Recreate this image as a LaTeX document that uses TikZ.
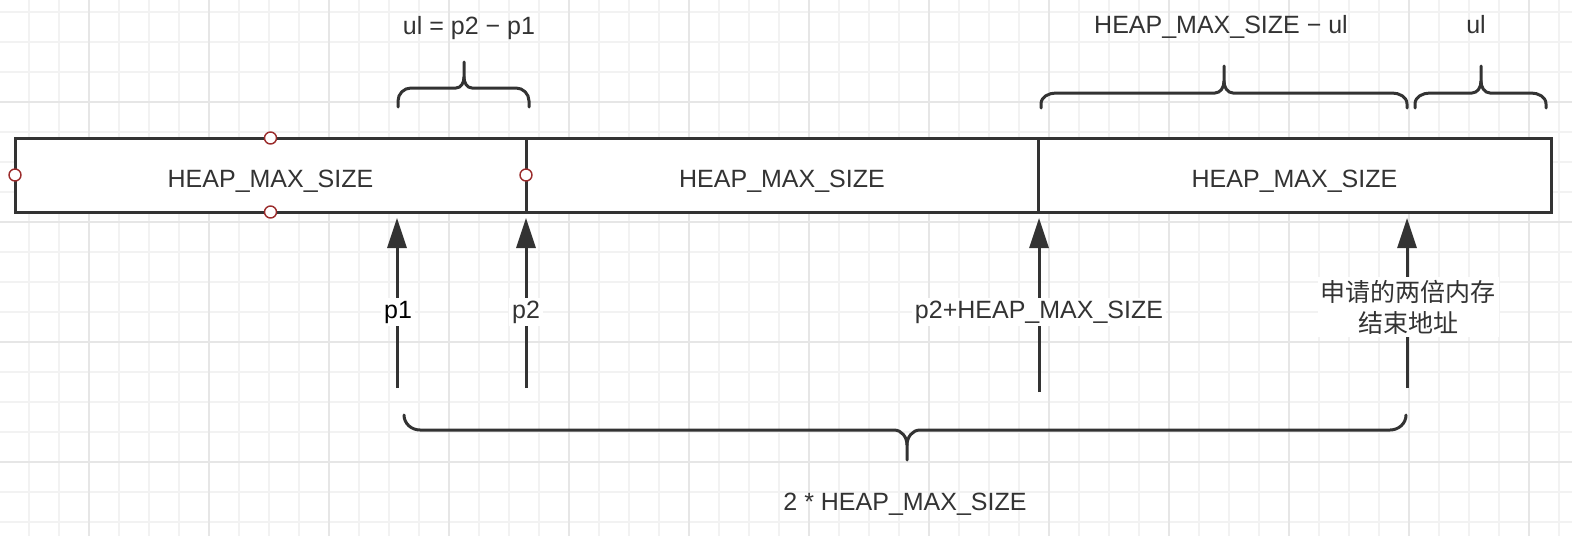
\documentclass[tikz,border=0pt]{standalone}
\usepackage{fontspec}
\setmainfont{Liberation Sans}
\newfontfamily\cjkfont{Noto Sans CJK SC}
\usetikzlibrary{arrows.meta}
\definecolor{ink}{HTML}{333333}
\definecolor{gridminor}{HTML}{F2F2F2}
\definecolor{gridmajor}{HTML}{E6E6E6}
\definecolor{handle}{HTML}{9B2C2C}
\tikzset{
  segbox/.style={draw=ink, line width=3pt, fill=white, rectangle, minimum width=#1, minimum height=74pt,
    inner sep=0pt, outer sep=0pt, text height=24pt, text depth=0pt, text=ink,
    font=\fontsize{25}{30}\selectfont},
  handlept/.style={circle, draw=handle, line width=1.4pt, fill=white, minimum size=12pt, inner sep=0pt},
  bracket/.style={draw=ink, line width=3pt, line cap=round, line join=round},
  pointer/.style={draw=ink, line width=3pt, -{Triangle[width=19pt,length=30pt]}},
  lbl/.style={text=ink, font=\fontsize{25}{30}\selectfont, inner sep=2pt},
  lblbg/.style={lbl, fill=white, inner sep=3pt},
}
\begin{document}
\begin{tikzpicture}[x=1pt,y=-1pt]
\useasboundingbox (0,0) rectangle (1572,536);
\fill[white] (0,0) rectangle (1572,536);
% grid
\foreach \gx in {29,59,...,1559} {\draw[gridminor, line width=1.2pt] (\gx,0) -- (\gx,536);}
\foreach \gy in {12,42,...,522} {\draw[gridminor, line width=1.2pt] (0,\gy) -- (1572,\gy);}
\foreach \gx in {89,209,...,1529} {\draw[gridmajor, line width=1.2pt] (\gx,0) -- (\gx,536);}
\foreach \gy in {102,222,342,462} {\draw[gridmajor, line width=1.2pt] (0,\gy) -- (1572,\gy);}

% segments
\node[segbox=511pt] (seg1) at (270.5,175) {HEAP\_MAX\_SIZE};
\node[segbox=512pt] (seg2) at (782,175) {HEAP\_MAX\_SIZE};
\node[segbox=513pt] (seg3) at (1294.5,175) {HEAP\_MAX\_SIZE};

% selection handles
\node[handlept] (h1) at (seg1.west) {};
\node[handlept] (h2) at (seg1.north) {};
\node[handlept] (h3) at (seg1.south) {};
\node[handlept] (h4) at (seg1.east) {};

% top braces
\draw[bracket] (398,107) -- (398,101) to[out=90,in=180] (411,88) -- (456,88) to[out=0,in=-90] (464,77) -- (464,62);
\draw[bracket] (464,77) to[out=-90,in=180] (472,88) -- (516,88) to[out=0,in=90] (529,101) -- (529,107);
\draw[bracket] (1041,108) -- (1041,104) to[out=90,in=180] (1056,93) -- (1215,93) to[out=0,in=-90] (1224,81) -- (1224,66);
\draw[bracket] (1224,81) to[out=-90,in=180] (1233,93) -- (1392,93) to[out=0,in=90] (1407,104) -- (1407,108);
\draw[bracket] (1415,108) -- (1415,104) to[out=90,in=180] (1430,93) -- (1472,93) to[out=0,in=-90] (1481,81) -- (1481,66);
\draw[bracket] (1481,81) to[out=-90,in=180] (1490,93) -- (1531,93) to[out=0,in=90] (1546,104) -- (1546,108);

\node[lbl, anchor=base] (t1) at (469,34) {ul = p2 − p1};
\node[lbl, anchor=base] (t2) at (1221,33) {HEAP\_MAX\_SIZE − ul};
\node[lbl, anchor=base] (t3) at (1476,33) {ul};

% pointers
\coordinate (a1s) at (397,388); \coordinate (a1e) at (397,218);
\coordinate (a2s) at (526,388); \coordinate (a2e) at (526,218);
\coordinate (a3s) at (1039,392); \coordinate (a3e) at (1039,218);
\coordinate (a4s) at (1407,388); \coordinate (a4e) at (1407,218);
\draw[pointer] (a1s) -- (a1e);
\draw[pointer] (a2s) -- (a2e);
\draw[pointer] (a3s) -- (a3e);
\draw[pointer] (a4s) -- (a4e);

\node[lblbg, anchor=base, text=black] (l1) at (398,318) {p1};
\node[lblbg, anchor=base] (l2) at (526,318) {p2};
\node[lblbg, anchor=base] (l3) at (1039,318) {p2+HEAP\_MAX\_SIZE};
\node[lblbg, align=center, font=\cjkfont\fontsize{25}{31}\selectfont] (l4) at (1408,307) {申请的两倍内存\\结束地址};

% bottom brace
\draw[bracket] (404,415) to[out=-90,in=180] (420,430) -- (894,430) to[out=0,in=90] (907,445) -- (907,460);
\draw[bracket] (907,445) to[out=90,in=180] (920,430) -- (1390,430) to[out=0,in=-90] (1406,415);

\node[lbl, anchor=base] (t4) at (905,510) {2 * HEAP\_MAX\_SIZE};
\end{tikzpicture}
\end{document}
